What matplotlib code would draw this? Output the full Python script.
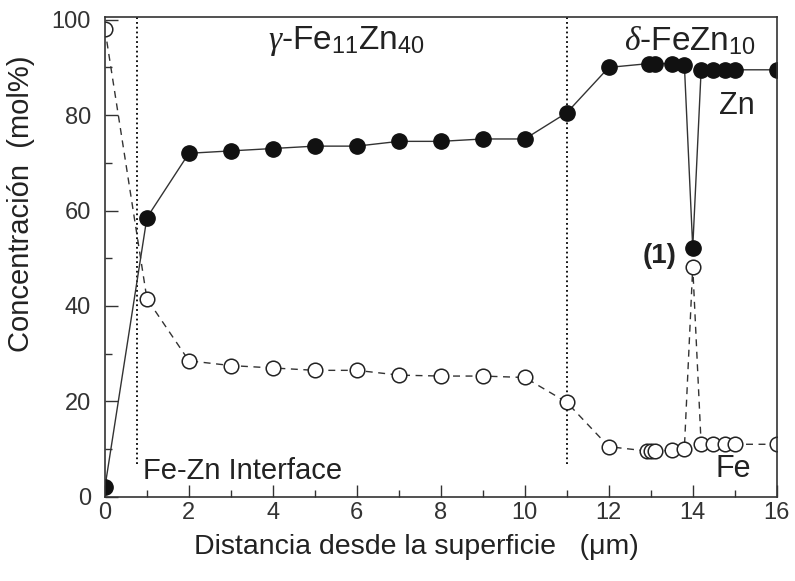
import numpy as np
import matplotlib
matplotlib.use("Agg")
import matplotlib.pyplot as plt
from matplotlib.ticker import MultipleLocator

plt.rcParams['font.family'] = ['Liberation Sans', 'DejaVu Sans']
plt.rcParams['mathtext.fontset'] = 'custom'
plt.rcParams['mathtext.rm'] = 'Liberation Sans'
plt.rcParams['mathtext.it'] = 'Liberation Serif:italic'

#~~~~~~~~ Data ~~~~~~~~~~~~
dist = [0, 1, 2, 3, 4, 5, 6, 7, 8, 9, 10, 11, 12,
        12.95, 13.1, 13.5, 13.8, 14.0, 14.2, 14.48, 14.76, 15.0, 16]
zn = [2, 58.5, 72, 72.5, 73, 73.5, 73.5, 74.5, 74.5, 75, 75, 80.5, 90,
      90.8, 90.8, 90.8, 90.6, 52.2, 89.5, 89.5, 89.5, 89.5, 89.5]

dist_fe = [0, 1, 2, 3, 4, 5, 6, 7, 8, 9, 10, 11, 12,
           12.9, 13.0, 13.1, 13.5, 13.8, 14.0, 14.2, 14.48, 14.76, 15.0, 16]
fe = [98, 41.5, 28.5, 27.5, 27, 26.5, 26.5, 25.5, 25.3, 25.3, 25, 19.8, 10.5,
      9.6, 9.6, 9.6, 9.7, 10.0, 48.2, 11, 11, 11, 11, 11]

interfaces = [0.76, 11.0]
#~~~~~~~~~~~~~~~~~~~~~~~~~~~

fig = plt.figure(figsize=(7.95, 5.81), dpi=100)
ax = fig.add_axes([0.132, 0.145, 0.845, 0.826])

for xv in interfaces:
    ax.plot([xv, xv], [6.8, 100.5], 'k:', lw=1.3)

ax.plot(dist_fe, fe, '--', color='#333333', lw=1.0, dashes=(5, 4),
        marker='o', ms=10.5, mfc='white', mec='#222222', mew=1.1)
ax.plot(dist, zn, '-', color='#333333', lw=1.0,
        marker='o', ms=11, mfc='#111111', mec='#111111')

ax.set_xlim(0, 16)
ax.set_ylim(0, 100.6)
ax.xaxis.set_major_locator(MultipleLocator(2))
ax.xaxis.set_minor_locator(MultipleLocator(1))
ax.yaxis.set_major_locator(MultipleLocator(20))
ax.yaxis.set_minor_locator(MultipleLocator(10))
ax.tick_params(which='both', direction='in', top=False, right=False,
               labelsize=17, colors='#333333', labelcolor='#333333')
ax.tick_params(which='major', length=9, width=1)
ax.tick_params(which='minor', length=5, width=1)
ax.tick_params(axis='x', pad=4)
ax.tick_params(axis='y', pad=10)
for s in ax.spines.values():
    s.set_color('#333333')
    s.set_linewidth(1.2)

ax.set_xlabel('Distancia desde la superficie   (\u03bcm)', fontsize=20.5,
              color='#222222')
ax.xaxis.set_label_coords(0.463, -0.078)
ax.set_ylabel('Concentración  (mol%)', fontsize=21, color='#222222')
ax.yaxis.set_label_coords(-0.104, 0.61)

ax.text(5.75, 95.5, r'$\it{\gamma}$-Fe$_{11}$Zn$_{40}$', fontsize=24,
        ha='center', va='center', color='#222222')
ax.text(13.93, 95.5, r'$\it{\delta}$-FeZn$_{10}$', fontsize=24,
        ha='center', va='center', color='#222222')
ax.text(14.62, 82, 'Zn', fontsize=22, ha='left', va='center', color='#222222')
ax.text(14.55, 5.8, 'Fe', fontsize=22, ha='left', va='center', color='#222222')
ax.text(0.9, 5.4, 'Fe-Zn Interface', fontsize=21, ha='left', va='center',
        color='#222222')
ax.text(13.62, 50.5, '(1)', fontsize=20, fontweight='bold', ha='right',
        va='center', color='#222222')

fig.savefig('out.png', dpi=100)
